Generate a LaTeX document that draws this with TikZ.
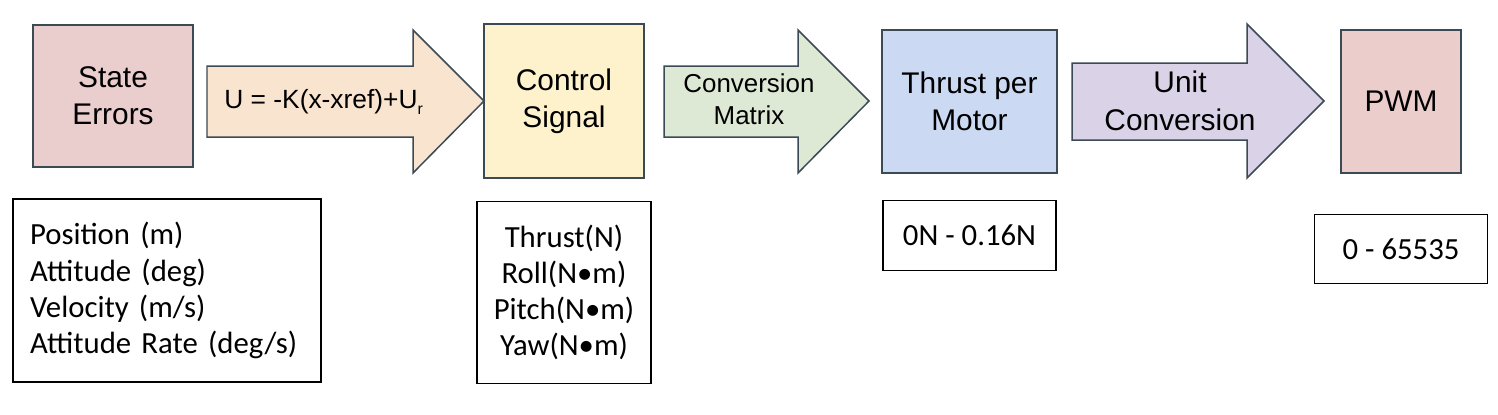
\documentclass[tikz,border=0pt]{standalone}
\usepackage{fontspec}
\setmainfont{Liberation Sans}
\newfontfamily\calibri{Carlito}
\usetikzlibrary{positioning}
\definecolor{edgegray}{HTML}{3C4A55}
\definecolor{errpink}{HTML}{EACDCD}
\definecolor{laworange}{HTML}{F9E4CF}
\definecolor{sigyellow}{HTML}{FEF2CD}
\definecolor{matgreen}{HTML}{DDE8D5}
\definecolor{motblue}{HTML}{CBD9F3}
\definecolor{unitpurple}{HTML}{DAD3E8}
\definecolor{pwmpink}{HTML}{EBCDCC}
\newcommand{\bigfont}{\fontsize{17}{21}\selectfont}
\newcommand{\listfont}{\calibri\fontsize{17.5}{20.6}\selectfont}

\begin{document}
\begin{tikzpicture}[x=0.02cm,y=-0.02cm,
    block/.style={draw=edgegray, line width=0.85pt, align=center, font=\bigfont},
    flow/.style={draw=edgegray, line width=0.85pt, line join=miter},
    listbox/.style={draw=black, line width=0.85pt, align=center, font=\listfont}]
    \useasboundingbox (0,0) rectangle (1498,414);

    % top row blocks
    \node[block, fill=errpink, minimum width=3.2cm, minimum height=2.84cm] (errs) at (113,96) {State\\Errors};
    \node[block, fill=sigyellow, minimum width=3.2cm, minimum height=3.08cm] (ctrl) at (564,101) {Control\\Signal};
    \node[block, fill=motblue, minimum width=3.5cm, minimum height=2.86cm] (thrust) at (969.5,101.5) {Thrust per\\Motor};
    \node[block, fill=pwmpink, minimum width=2.4cm, minimum height=2.86cm] (pwm) at (1401,101.5) {PWM};

    % block arrows
    \draw[flow, fill=laworange] (207,66) -- (413,66) -- (413,30) -- (484,101)
        -- (413,173) -- (413,137) -- (207,137) -- cycle;
    \node[anchor=west, inner sep=0pt, font=\fontsize{15}{18}\selectfont] (law) at (224,102)
        {U = -K(x-xref)+U\raisebox{-0.45ex}{\fontsize{9}{10}\selectfont r}};

    \draw[flow, fill=matgreen] (664,66) -- (798,66) -- (798,30) -- (869,101)
        -- (798,173) -- (798,137) -- (664,137) -- cycle;
    \node[align=center, font=\fontsize{14.75}{18}\selectfont] (mat) at (749,99) {Conversion\\Matrix};

    \draw[flow, fill=unitpurple] (1072,63) -- (1247,63) -- (1247,24) -- (1324,101)
        -- (1247,178) -- (1247,140) -- (1072,140) -- cycle;
    \node[align=center, font=\fontsize{17}{21.5}\selectfont] (unit) at (1180,101) {Unit\\Conversion};

    % bottom row boxes
    \node[listbox, align=left, text width=5.48cm, inner xsep=0.34cm, minimum height=3.66cm] (states) at (167,290.5)
        {Position (m)\\Attitude (deg)\\Velocity (m/s)\\Attitude Rate (deg/s)};
    \node[listbox, minimum width=3.48cm, minimum height=3.64cm, below=0.44cm of ctrl] (sigs)
        {Thrust(N)\\Roll(N•m)\\Pitch(N•m)\\Yaw(N•m)};
    \node[listbox, minimum width=3.46cm, minimum height=1.4cm, below=0.52cm of thrust] (trange) {0N - 0.16N};
    \node[listbox, minimum width=3.46cm, minimum height=1.38cm, below=0.8cm of pwm] (prange) {0 - 65535};
\end{tikzpicture}
\end{document}
